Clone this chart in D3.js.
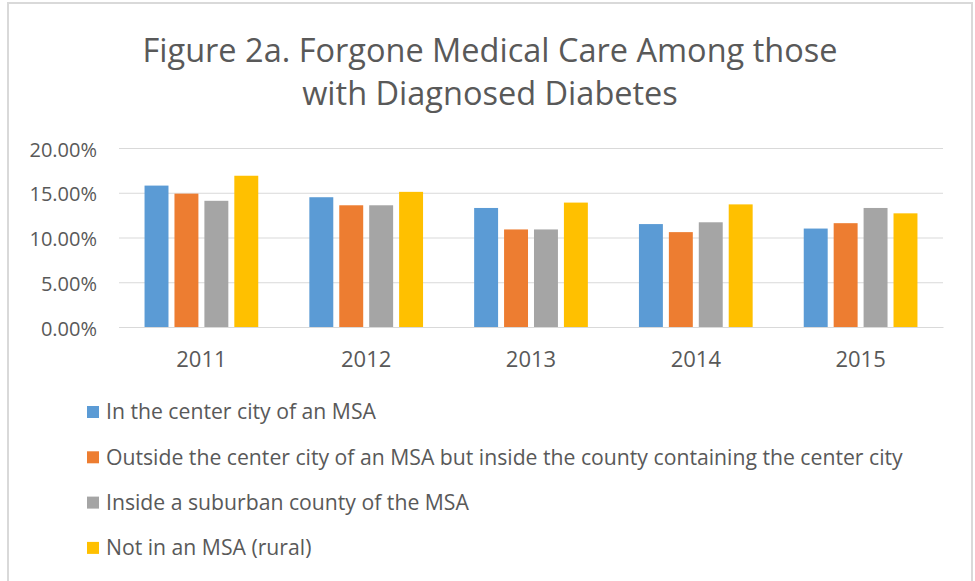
<!DOCTYPE html>
<html>
<head>
<meta charset="utf-8">
<script src="https://cdn.jsdelivr.net/npm/d3@7"></script>
<style>
  body { margin: 0; background: #fff; }
  svg { display: block; font-family: "Open Sans", sans-serif; }
</style>
</head>
<body>
<svg width="975" height="581"></svg>
<script>
const years = ['2011', '2012', '2013', '2014', '2015'];
const seriesNames = [
  'In the center city of an MSA',
  'Outside the center city of an MSA but inside the county containing the center city',
  'Inside a suburban county of the MSA',
  'Not in an MSA (rural)'
];
const seriesColors = ['#5b9bd5', '#ed7d31', '#a5a5a5', '#ffc000'];
const centerCity = [15.8, 14.5, 13.3, 11.5, 11.0];
const outsideCenter = [14.9, 13.6, 10.9, 10.6, 11.6];
const suburban = [14.1, 13.6, 10.9, 11.7, 13.3];
const rural = [16.9, 15.1, 13.9, 13.7, 12.7];
const yTicks = [0, 5, 10, 15, 20];

const seriesValues = [centerCity, outsideCenter, suburban, rural];

const svg = d3.select('svg');
const margin = {top: 148, right: 32, bottom: 254, left: 119};
const width = 975 - margin.left - margin.right;
const height = 581 - margin.top - margin.bottom;
const textColor = '#595959';

// chart frame
svg.append('rect')
    .attr('x', 8).attr('y', 3)
    .attr('width', 964).attr('height', 590)
    .attr('fill', 'none')
    .attr('stroke', '#d9d9d9')
    .attr('stroke-width', 2);

svg.append('text')
    .attr('x', 490).attr('y', 62)
    .attr('text-anchor', 'middle')
    .attr('fill', textColor)
    .style('font-size', '32.5px')
  .selectAll('tspan')
  .data(['Figure 2a. Forgone Medical Care Among those', 'with Diagnosed Diabetes'])
  .join('tspan')
    .attr('x', 490)
    .attr('dy', (d, i) => i ? 43 : 0)
    .text(d => d);

const g = svg.append('g')
    .attr('transform', 'translate(' + margin.left + ',' + margin.top + ')');

const x0 = d3.scaleBand()
    .domain(years)
    .range([0, width])
    .paddingInner(0.31)
    .paddingOuter(0.155);

const x1 = d3.scaleBand()
    .domain(d3.range(seriesNames.length))
    .range([0, x0.bandwidth()])
    .paddingInner(0.2);

const y = d3.scaleLinear()
    .domain([0, 20])
    .range([height, 0]);

g.append('g')
    .call(d3.axisLeft(y).tickValues(yTicks).tickSize(-width).tickFormat(d => d3.format('.2f')(d) + '%'))
    .call(a => a.select('.domain').remove())
    .call(a => a.selectAll('line').attr('stroke', '#d9d9d9').attr('stroke-width', 1))
    .call(a => a.selectAll('text')
        .attr('x', -22)
        .attr('dy', '0.4em')
        .attr('fill', textColor)
        .style('font-size', '20px')
        .style('font-family', '"Open Sans", sans-serif'));

g.append('g')
    .selectAll('g')
    .data(years)
    .join('g')
      .attr('transform', d => 'translate(' + x0(d) + ',0)')
    .selectAll('rect')
    .data((d, i) => seriesValues.map((vals, s) => ({s, v: vals[i]})))
    .join('rect')
      .attr('x', d => x1(d.s))
      .attr('y', d => y(d.v))
      .attr('width', x1.bandwidth())
      .attr('height', d => height - y(d.v))
      .attr('fill', d => seriesColors[d.s]);

g.append('g')
    .attr('transform', 'translate(0,' + height + ')')
    .call(d3.axisBottom(x0).tickSize(0).tickPadding(0))
    .call(a => a.select('.domain').attr('stroke', '#d9d9d9'))
    .call(a => a.selectAll('text')
        .attr('y', 24)
        .attr('fill', textColor)
        .style('font-size', '22px')
        .style('font-family', '"Open Sans", sans-serif'));

const legend = svg.append('g')
    .selectAll('g')
    .data(seriesNames)
    .join('g')
      .attr('transform', (d, i) => 'translate(87,' + (412 + i * 45.3) + ')');

legend.append('rect')
    .attr('y', -6)
    .attr('width', 12).attr('height', 12)
    .attr('fill', (d, i) => seriesColors[i]);

legend.append('text')
    .attr('x', 19)
    .attr('dy', '0.35em')
    .attr('fill', textColor)
    .style('font-size', '21.2px')
    .text(d => d);
</script>
</body>
</html>
